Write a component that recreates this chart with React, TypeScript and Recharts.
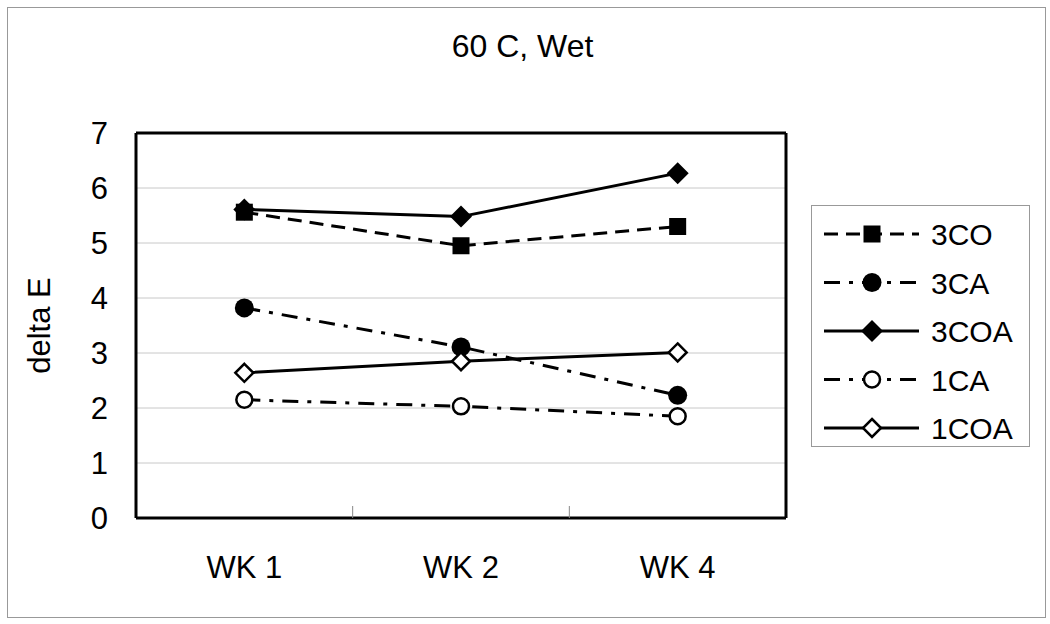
import React from 'react';
import { LineChart, Line, XAxis, YAxis, CartesianGrid, Legend, ReferenceLine } from 'recharts';

const categories = ['WK 1', 'WK 2', 'WK 4'];
const s3CO = [5.56, 4.95, 5.3];
const s3CA = [3.82, 3.11, 2.23];
const s3COA = [5.61, 5.48, 6.27];
const s1CA = [2.15, 2.03, 1.85];
const s1COA = [2.64, 2.85, 3.01];
const yTicks = [0, 1, 2, 3, 4, 5, 6, 7];

const FONT = "'Liberation Sans', Arial, sans-serif";

type MarkerKind = 'square' | 'circle' | 'diamond' | 'ocircle' | 'odiamond';

const series: { key: string; name: string; values: number[]; dash?: string; marker: MarkerKind }[] = [
  { key: 's3CO', name: '3CO', values: s3CO, dash: '14 8', marker: 'square' },
  { key: 's3CA', name: '3CA', values: s3CA, dash: '16 9 4 9', marker: 'circle' },
  { key: 's3COA', name: '3COA', values: s3COA, marker: 'diamond' },
  { key: 's1CA', name: '1CA', values: s1CA, dash: '16 9 4 9', marker: 'ocircle' },
  { key: 's1COA', name: '1COA', values: s1COA, marker: 'odiamond' },
];

const data = categories.map((c, i) => {
  const row: Record<string, number | string> = { x: i + 0.5, cat: c };
  series.forEach((s) => {
    row[s.key] = s.values[i];
  });
  return row;
});

const xTickValues = [0.5, 1, 1.5, 2, 2.5];

function Marker({ kind, cx, cy }: { kind: MarkerKind; cx: number; cy: number }) {
  switch (kind) {
    case 'square':
      return <rect x={cx - 8.5} y={cy - 8.5} width={17} height={17} fill="#000" />;
    case 'circle':
      return <circle cx={cx} cy={cy} r={9.5} fill="#000" />;
    case 'diamond':
      return <polygon points={`${cx},${cy - 11} ${cx + 11},${cy} ${cx},${cy + 11} ${cx - 11},${cy}`} fill="#000" />;
    case 'ocircle':
      return <circle cx={cx} cy={cy} r={8} fill="#fff" stroke="#000" strokeWidth={2.5} />;
    case 'odiamond':
      return (
        <polygon
          points={`${cx},${cy - 9} ${cx + 9},${cy} ${cx},${cy + 9} ${cx - 9},${cy}`}
          fill="#fff"
          stroke="#000"
          strokeWidth={2.5}
        />
      );
  }
  return null;
}

const makeDot = (kind: MarkerKind) => (props: any) => {
  const { cx, cy, index } = props;
  if (cx == null || cy == null) return <g key={index} />;
  return (
    <g key={`${kind}-${index}`}>
      <Marker kind={kind} cx={cx} cy={cy} />
    </g>
  );
};

const XTick = (props: any) => {
  const { x, y, payload } = props;
  const v = payload.value as number;
  if (Math.abs(v - Math.round(v)) < 0.01) {
    return <line x1={x} x2={x} y1={y} y2={y - 12} stroke="#888" strokeWidth={1} />;
  }
  return (
    <text x={x} y={y + 60} textAnchor="middle" fontFamily={FONT} fontSize={31} fill="#000">
      {categories[Math.floor(v)]}
    </text>
  );
};

const YTick = (props: any) => {
  const { x, y, payload } = props;
  return (
    <text x={x - 28} y={y + 11} textAnchor="end" fontFamily={FONT} fontSize={31} fill="#000">
      {payload.value}
    </text>
  );
};

const LegendContent = () => (
  <svg width={219} height={242} style={{ display: 'block' }}>
    {series.map((s, i) => {
      const cy = 28 + i * 48.5;
      return (
        <g key={s.key}>
          <line x1={12} x2={107} y1={cy} y2={cy} stroke="#000" strokeWidth={3} strokeDasharray={s.dash} />
          <Marker kind={s.marker} cx={60} cy={cy} />
          <text x={119} y={cy + 11} fontFamily={FONT} fontSize={30} fill="#000">
            {s.name}
          </text>
        </g>
      );
    })}
  </svg>
);

export default function App() {
  return (
    <div style={{ position: 'absolute', left: 0, top: 0, width: 1050, height: 624, background: '#fff' }}>
      <div
        style={{
          position: 'absolute',
          left: 7,
          top: 7,
          width: 1037,
          height: 609,
          border: '1px solid #999',
        }}
      />
      <div
        style={{
          position: 'absolute',
          left: 0,
          top: 26,
          width: 1045,
          textAlign: 'center',
          fontFamily: FONT,
          fontSize: 32,
          lineHeight: '40px',
          color: '#000',
        }}
      >
        60 C, Wet
      </div>
      <LineChart width={1050} height={624} data={data} margin={{ top: 133, right: 264, bottom: 0, left: 0 }}>
        <CartesianGrid vertical={false} stroke="#c8c8c8" strokeWidth={1} />
        <XAxis
          dataKey="x"
          type="number"
          domain={[0, 3]}
          ticks={xTickValues}
          interval={0}
          height={106}
          tickLine={false}
          tickSize={0}
          tickMargin={0}
          axisLine={{ stroke: '#000', strokeWidth: 3 }}
          tick={<XTick />}
        />
        <YAxis
          type="number"
          domain={[0, 7]}
          ticks={yTicks}
          interval={0}
          width={136}
          tickLine={false}
          tickSize={0}
          tickMargin={0}
          axisLine={{ stroke: '#000', strokeWidth: 3 }}
          tick={<YTick />}
          label={{
            content: (p: any) => {
              const vb = p.viewBox || { x: 0, y: 133, width: 136, height: 385 };
              const cx = vb.x + 39;
              const cy = vb.y + vb.height / 2;
              return (
                <text
                  x={cx}
                  y={cy}
                  transform={`rotate(-90 ${cx} ${cy})`}
                  textAnchor="middle"
                  dominantBaseline="central"
                  fontFamily={FONT}
                  fontSize={31}
                  fill="#000"
                >
                  delta E
                </text>
              );
            },
          }}
        />
        <ReferenceLine y={7} stroke="#000" strokeWidth={3} ifOverflow="visible" />
        <ReferenceLine x={3} stroke="#000" strokeWidth={3} ifOverflow="visible" />
        <Legend
          layout="vertical"
          align="center"
          verticalAlign="middle"
          content={<LegendContent />}
          wrapperStyle={{
            position: 'absolute',
            left: 811,
            top: 205,
            width: 219,
            height: 242,
            border: '1px solid #999',
            background: '#fff',
            boxSizing: 'border-box',
          }}
        />
        {series.map((s) => (
          <Line
            key={s.key}
            dataKey={s.key}
            name={s.name}
            stroke="#000"
            strokeWidth={3}
            strokeDasharray={s.dash}
            dot={makeDot(s.marker)}
            activeDot={false}
            isAnimationActive={false}
          />
        ))}
      </LineChart>
    </div>
  );
}
